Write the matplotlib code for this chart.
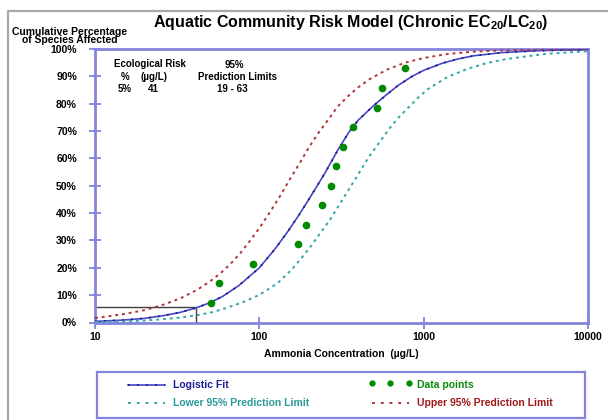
import matplotlib
matplotlib.use("Agg")
import matplotlib.pyplot as plt
from matplotlib.lines import Line2D

plt.rcParams['font.family'] = ['Liberation Sans', 'DejaVu Sans']
plt.rcParams['font.weight'] = 'bold'
plt.rcParams['axes.labelweight'] = 'bold'
plt.rcParams['mathtext.fontset'] = 'custom'
plt.rcParams['mathtext.rm'] = 'Liberation Sans:bold'
plt.rcParams['mathtext.bf'] = 'Liberation Sans:bold'

# Data points (ug/L, cumulative %)
pts_conc = [51, 57, 91, 173, 191, 241, 272, 294, 322, 372, 520, 559, 770]
pts_pct = [7.1, 14.3, 21.4, 28.6, 35.7, 42.9, 50.0, 57.1, 64.3, 71.4, 78.6, 85.7, 92.9]

# Logistic fit
fit_conc = [10, 15, 20, 26, 33, 41, 50, 60, 75, 100, 125, 150, 175, 200, 225,
            250, 300, 350, 400, 500, 600, 700, 850, 1000, 1300, 1600, 2000,
            3000, 5000, 10000]
fit_pct = [0.4, 0.9, 1.5, 2.5, 3.7, 5.3, 7.2, 9.6, 13.5, 20.0, 27.0, 33.5, 39.5,
           45.0, 50.0, 54.5, 63.0, 69.5, 74.0, 79.5, 83.5, 86.7, 90.0, 92.2,
           94.8, 96.3, 97.5, 98.7, 99.4, 99.8]

# Upper 95% prediction limit
up_conc = [10, 15, 20, 26, 33, 42, 50, 58, 67, 77, 88, 100, 115, 133, 152, 175,
           200, 230, 265, 300, 350, 400, 470, 600, 770, 1000, 1400, 2000, 3000,
           5000, 10000]
up_pct = [1.6, 3.1, 4.5, 6.5, 8.8, 12.0, 15.0, 18.0, 21.5, 25.5, 30.0, 34.5,
          40.0, 46.0, 52.0, 58.0, 64.0, 69.5, 74.5, 79.0, 83.0, 86.0, 89.0,
          92.5, 95.0, 96.7, 98.2, 99.0, 99.5, 99.8, 100.0]

# Lower 95% prediction limit
lo_conc = [10, 15, 20, 26, 33, 43, 52, 63, 80, 100, 130, 157, 180, 206, 235,
           270, 310, 356, 410, 468, 540, 615, 700, 807, 930, 1060, 1400, 1840,
           2400, 3170, 5480, 10000]
lo_pct = [0.2, 0.4, 0.7, 1.2, 1.8, 2.8, 3.8, 5.3, 7.5, 10.1, 14.5, 19.3, 23.5,
          27.9, 32.7, 37.7, 43.5, 49.3, 55.3, 60.9, 66.0, 70.7, 74.8, 78.6, 82.3,
          85.3, 89.8, 92.7, 94.8, 96.3, 98.2, 99.2]

risk_pct = 5.5
risk_conc = 41

x_ticks = [10, 100, 1000, 10000]
y_ticks = [0, 10, 20, 30, 40, 50, 60, 70, 80, 90, 100]

axis_col = '#8484dc'
blue = '#4646c8'
navy = '#1c1c80'
red = '#b03636'
teal = '#34a6a6'
green = '#008a00'

W, H = 608, 420
fig = plt.figure(figsize=(W / 100, H / 100), dpi=100)
fig.patch.set_facecolor('white')

# grey outer frame (left and top edges only)
fig.add_artist(Line2D([8 / W, 8 / W, 1.01], [0, 1 - 11 / H, 1 - 11 / H],
                      transform=fig.transFigure, color='#a8a8a8', lw=1.6))

ax = fig.add_axes([95 / W, 1 - 322.5 / H, 493 / W, 273.5 / H])
ax.set_xscale('log')
ax.set_xlim(10, 10000)
ax.set_ylim(0, 100)

ax.plot(fit_conc, fit_pct, color=blue, lw=1.2, zorder=3)
ax.plot(fit_conc, fit_pct, color=navy, lw=1.3, ls=(0, (1, 4)), zorder=3)
ax.plot(up_conc, up_pct, color=red, lw=1.4, ls=(0, (1.5, 2)), zorder=3)
ax.plot(lo_conc, lo_pct, color=teal, lw=1.4, ls=(0, (1.5, 2)), zorder=3)
ax.plot(pts_conc, pts_pct, 'o', color=green, ms=4.5, zorder=4)

# 5% risk box
ax.plot([10, risk_conc, risk_conc], [risk_pct, risk_pct, 0], color='#404040',
        lw=1.0, zorder=2)

for s in ax.spines.values():
    s.set_color(axis_col)
    s.set_linewidth(2)
ax.set_xticks(x_ticks)
ax.set_xticklabels([str(t) for t in x_ticks])
ax.set_yticks(y_ticks)
ax.set_yticklabels([f'{t}%' for t in y_ticks])
ax.minorticks_off()
ax.tick_params(direction='inout', length=8, width=1.3, color=axis_col,
               labelsize=7.5)
ax.tick_params(axis='y', pad=9)
ax.tick_params(axis='x', pad=3)

ax.set_xlabel('Ammonia Concentration  (µg/L)', fontsize=7.5, labelpad=5)

fig.text(70 / W, 1 - 36 / H, 'Cumulative Percentage\nof Species Affected',
         ha='center', va='center', fontsize=7.5, linespacing=0.8)
fig.text(351 / W, 1 - 23 / H,
         r'Aquatic Community Risk Model (Chronic EC$_{\mathbf{20}}$/LC$_{\mathbf{20}}$)',
         ha='center', va='center', fontsize=11.5)

# risk annotation
fig.text(150 / W, 1 - 64 / H, 'Ecological Risk', ha='center', va='center', fontsize=7)
fig.text(125 / W, 1 - 77 / H, '%', ha='center', va='center', fontsize=7)
fig.text(154 / W, 1 - 77 / H, '(µg/L)', ha='center', va='center', fontsize=7)
fig.text(125 / W, 1 - 89 / H, '5%', ha='center', va='center', fontsize=7)
fig.text(153 / W, 1 - 89 / H, '41', ha='center', va='center', fontsize=7)
fig.text(234 / W, 1 - 65 / H, '95%', ha='center', va='center', fontsize=7)
fig.text(238 / W, 1 - 77 / H, 'Prediction Limits', ha='center', va='center', fontsize=7)
fig.text(232 / W, 1 - 89 / H, '19 - 63', ha='center', va='center', fontsize=7)

# legend box
lg = fig.add_axes([97 / W, 1 - 418 / H, 488 / W, 46 / H])
lg.set_xlim(0, 488)
lg.set_ylim(46, 0)
lg.set_xticks([])
lg.set_yticks([])
for s in lg.spines.values():
    s.set_color(axis_col)
    s.set_linewidth(1.6)

lg.plot([31, 68], [13, 13], color=blue, lw=1.2)
lg.plot([31, 68], [13, 13], color=navy, lw=1.3, ls=(0, (1, 4)))
lg.text(76, 13, 'Logistic Fit', color='#1c1c90', fontsize=7.5, va='center')
lg.plot([31, 68], [31, 31], color=teal, lw=1.4, ls=(0, (1.5, 3)))
lg.text(76, 31, 'Lower 95% Prediction Limit', color='#2a9a9a', fontsize=7.5, va='center')
lg.plot([275, 293, 312], [11, 11, 11], 'o', color=green, ms=3.5)
lg.text(320, 13, 'Data points', color='#0a8a0a', fontsize=7.5, va='center')
lg.plot([275, 312], [31, 31], color=red, lw=1.4, ls=(0, (1.5, 3)))
lg.text(320, 31, 'Upper 95% Prediction Limit', color='#a01818', fontsize=7.5, va='center')

fig.savefig('out.png', dpi=100)
